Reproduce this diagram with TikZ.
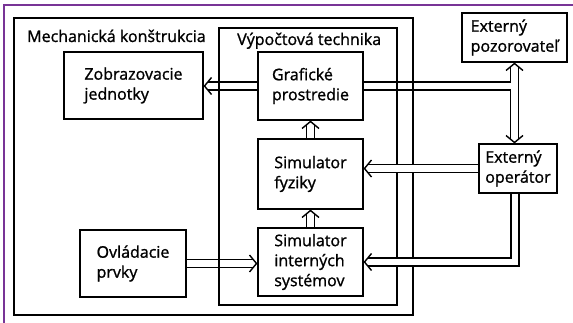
\documentclass[tikz,border=0pt]{standalone}
\usepackage{fontspec}
\setmainfont{Open Sans}[FakeBold=1.2]
\usepackage{tikz}
\usetikzlibrary{arrows.meta}
\definecolor{borderpurple}{RGB}{120,52,150}
% open chevron tip that the double shaft runs into
\pgfdeclarearrow{
  name = Chevron,
  parameters = {\the\pgfarrowlength,\the\pgfarrowwidth},
  setup code = {
    \pgfarrowssettipend{0.7pt}
    \pgfarrowssetbackend{-\pgfarrowlength}
    \pgfarrowssetlineend{-0.5\pgfarrowlength}
    \pgfarrowssetvisualbackend{-\pgfarrowlength}
    \pgfarrowssavethe\pgfarrowlength
    \pgfarrowssavethe\pgfarrowwidth
  },
  drawing code = {
    \pgfsetlinewidth{1.4pt}
    \pgfsetdash{}{0pt}
    \pgfsetmiterjoin
    \pgfpathmoveto{\pgfpoint{-\pgfarrowlength}{.5\pgfarrowwidth}}
    \pgfpathlineto{\pgfpointorigin}
    \pgfpathlineto{\pgfpoint{-\pgfarrowlength}{-.5\pgfarrowwidth}}
    \pgfusepathqstroke
  },
  defaults = {length=7pt, width=17pt}
}
\tikzstyle{block} = [rectangle, draw, line width=1.6pt, align=left, inner sep=0pt, font=\fontsize{16}{20}\selectfont]
\tikzstyle{frame} = [rectangle, draw, line width=1.6pt, inner sep=0pt]
\tikzstyle{title} = [anchor=base west, inner sep=0pt, font=\fontsize{16}{20}\selectfont]
\tikzstyle{line} = [draw, line width=1.4pt, double, double distance=6.5pt, -Chevron]
\tikzstyle{both} = [draw, line width=1.4pt, double, double distance=6.5pt, Chevron-Chevron]
\tikzstyle{shaft} = [draw, line width=1.4pt, double, double distance=6.5pt]

\begin{document}
\begin{tikzpicture}[x=1pt, y=-1pt]
		\useasboundingbox (0,0) rectangle (573,323);
		\draw [borderpurple, line width=2pt] (4,323) -- (4,5) -- (573,5);
		% Place nodes
		\node [block, minimum width=139pt, minimum height=67pt] (zobraz) at (133.5,85.5) {Zobrazovacie\\jednotky};
		\node [block, minimum width=105pt, minimum height=68pt] (grafika) at (310.5,86) {Grafické\\prostredie};
		\node [block, minimum width=105pt, minimum height=70pt] (fyzika) at (310.5,174) {Simulator\\fyziky};
		\node [block, minimum width=105pt, minimum height=68pt] (interne) at (310.5,262) {Simulator\\interných\\systémov};
		\node [block, minimum width=106pt, minimum height=67pt] (ovladace) at (133,263.5) {Ovládacie\\prvky};
		\node [block, minimum width=105pt, minimum height=49pt] (pozor) at (514.5,37.5) {Externý\\pozorovateľ};
		\node [block, minimum width=78pt, minimum height=49pt] (operator) at (518,168.5) {Externý\\operátor};
		% Draw edges
		\path [both] (pozor.south) -- (pozor.south |- operator.north);
		\path [shaft] (grafika.east) -- ([xshift=-3.25pt]pozor.south |- grafika.east);
		\path [line] (grafika.west) -- (grafika.west -| zobraz.east);
		\path [line] (ovladace.east) -- (ovladace.east -| interne.west);
		\path [line] (interne.north) -- (fyzika.south);
		\path [line] (fyzika.north) -- (grafika.south);
		% Frames
		\node [frame, minimum width=399pt, minimum height=297pt] (mechanika) at (213.5,166.5) {};
		\node [frame, minimum width=178pt, minimum height=277pt] (vypocty) at (308,166.5) {};
		\node [title] (mechtitle) at (27,42) {Mechanická konštrukcia};
		\node [title] (vyptitle) at (237,45) {Výpočtová technika};
		\path [line] (operator.west) -- (operator.west -| fyzika.east);
		\path [line] ([xshift=-3pt]operator.south) |- (interne.east);
	\end{tikzpicture}
\end{document}
